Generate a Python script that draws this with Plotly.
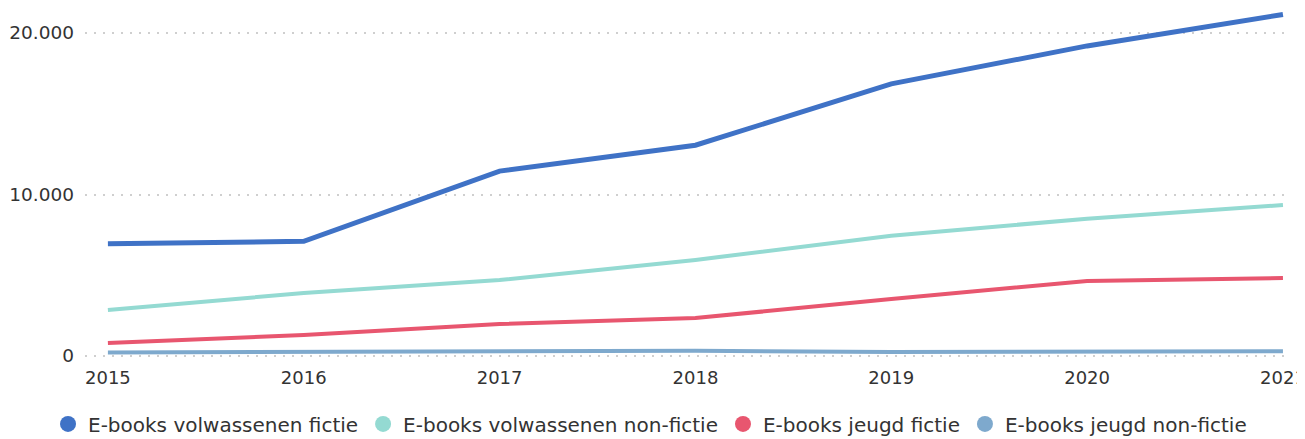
import plotly.graph_objects as go

years = [2015, 2016, 2017, 2018, 2019, 2020, 2021]
volw_fictie = [6950, 7100, 11450, 13050, 16850, 19200, 21150]
volw_nonfictie = [2850, 3900, 4700, 5950, 7450, 8500, 9350]
jeugd_fictie = [800, 1300, 1980, 2350, 3530, 4650, 4830]
jeugd_nonfictie = [220, 250, 260, 330, 240, 270, 290]

series_names = [
    "E-books volwassenen fictie",
    "E-books volwassenen non-fictie",
    "E-books jeugd fictie",
    "E-books jeugd non-fictie",
]
series_values = [volw_fictie, volw_nonfictie, jeugd_fictie, jeugd_nonfictie]
colors = ["#3F72C6", "#94DAD2", "#E8566F", "#7EA9CD"]
widths = [5, 4, 4, 4]

y_tickvals = [0, 10000, 20000]
y_ticktext = ["0", "10.000", "20.000"]

fig = go.Figure()
for name, vals, col, w in reversed(list(zip(series_names, series_values, colors, widths))):
    fig.add_trace(go.Scatter(x=years, y=vals, mode="lines", name=name,
                             line=dict(color=col, width=w), showlegend=False))
for name, col in zip(series_names, colors):
    fig.add_trace(go.Scatter(x=[None], y=[None], mode="markers", name=name,
                             marker=dict(color=col, size=18, symbol="circle"),
                             showlegend=True))

# page body has an 8px default margin, so the figure is sized to fit the window
fig.update_layout(
    width=1297, height=431,
    margin=dict(l=77, r=15, t=0, b=77),
    paper_bgcolor="white", plot_bgcolor="white",
    font=dict(family="DejaVu Sans", color="#333333"),
    legend=dict(orientation="h", xref="container", x=0.495, xanchor="center",
                yref="container", y=0.035, yanchor="middle",
                font=dict(size=20, color="#333333"),
                itemsizing="trace", tracegroupgap=0, itemwidth=30),
    xaxis=dict(range=[2014.883, 2021.036], tickvals=years,
               ticktext=[str(y) for y in years],
               showgrid=False, zeroline=False, showline=False,
               tickfont=dict(size=18, color="#333333"), ticks="",
               ticklabelstandoff=3, automargin=False,
               ticklabeloverflow="allow"),
    yaxis=dict(range=[-372, 21548], tickvals=y_tickvals, ticktext=y_ticktext,
               showgrid=True, gridcolor="#CFCFCF", griddash="2px,7px", gridwidth=1.5,
               zeroline=False, showline=False, ticks="",
               tickfont=dict(size=18.5, color="#333333"), ticklabelstandoff=10,
               automargin=False),
)

fig.write_html("out.html")
